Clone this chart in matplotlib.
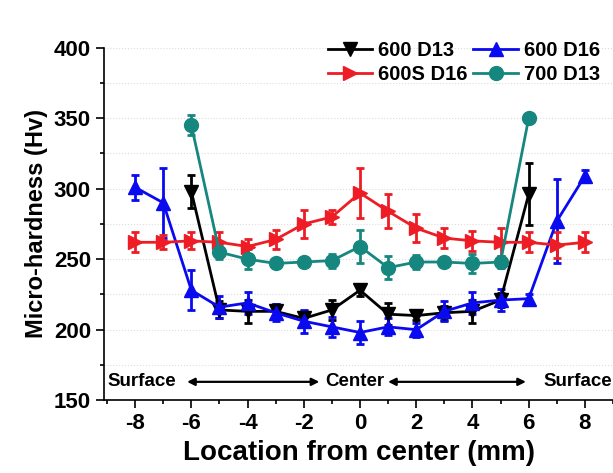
import numpy as np
import matplotlib.pyplot as plt
from matplotlib.ticker import MultipleLocator

plt.rcParams['font.family'] = ['Liberation Sans', 'DejaVu Sans']
plt.rcParams['font.weight'] = 'bold'
plt.rcParams['axes.unicode_minus'] = False

x13 = np.arange(-6, 7)
x16 = np.arange(-8, 9)

d13_600 = [298, 214, 213, 213, 208, 214, 228, 211, 210, 212, 213, 221, 296]
d13_600_err = [12, 6, 8, 5, 5, 7, 4, 8, 3, 5, 8, 5, 22]

d16_600 = [301, 290, 228, 216, 219, 212, 206, 202, 198, 202, 200, 213, 219, 221, 222, 277, 309]
d16_600_err = [9, 25, 14, 8, 8, 6, 8, 7, 8, 6, 5, 7, 8, 8, 3, 30, 4]

d16_600s = [262, 262, 263, 262, 259, 264, 275, 280, 297, 284, 272, 265, 263, 262, 262, 260, 262]
d16_600s_err = [7, 5, 6, 7, 5, 7, 10, 5, 18, 12, 10, 7, 7, 10, 7, 9, 7]

d13_700 = [345, 255, 250, 247, 248, 249, 259, 244, 248, 248, 247, 248, 350]
d13_700_err = [7, 5, 7, 3, 3, 5, 12, 8, 5, 3, 7, 4, 3]

fig = plt.figure(figsize=(6.13, 4.73), dpi=100)
ax = fig.add_axes([0.170, 0.154, 0.83, 0.745])

kw = dict(linewidth=2, markersize=10, elinewidth=2, capsize=3, capthick=2)
h1 = ax.errorbar(x13, d13_600, yerr=d13_600_err, color='black', marker='v', **kw)
h2 = ax.errorbar(x16, d16_600, yerr=d16_600_err, color='#0a0af0', marker='^', **kw)
h3 = ax.errorbar(x16, d16_600s, yerr=d16_600s_err, color='#ee1c24', marker='>', **kw)
h4 = ax.errorbar(x13, d13_700, yerr=d13_700_err, color='#16877f', marker='o', **kw)

ax.set_xlim(-9.1, 9.0)
ax.set_ylim(150, 400)
ax.xaxis.set_major_locator(MultipleLocator(2))
ax.xaxis.set_minor_locator(MultipleLocator(1))
ax.yaxis.set_major_locator(MultipleLocator(50))
ax.yaxis.set_minor_locator(MultipleLocator(25))
ax.grid(True, which='both', axis='y', color='#dddddd', linestyle=':', linewidth=0.8)
ax.set_axisbelow(True)

ax.spines['top'].set_visible(False)
ax.spines['right'].set_visible(False)
ax.spines['left'].set_linewidth(1.2)
ax.spines['bottom'].set_linewidth(1.2)
ax.tick_params(axis='both', which='major', direction='out', length=6, width=1.2, labelsize=16)
ax.tick_params(axis='both', which='minor', direction='out', length=3, width=1.2)

ax.set_xlabel('Location from center (mm)', fontsize=20, fontweight='bold', labelpad=4)
ax.set_ylabel('Micro-hardness (Hv)', fontsize=17, fontweight='bold')

# surface / center annotation
ax.text(-9.0, 163, 'Surface', fontsize=13.5, fontweight='bold', va='center', ha='left')
ax.text(-0.18, 163, 'Center', fontsize=13.5, fontweight='bold', va='center', ha='center')
ax.text(8.98, 163, 'Surface', fontsize=13.5, fontweight='bold', va='center', ha='right')
arrow = dict(arrowstyle='<|-|>', color='black', lw=1.6, mutation_scale=11)
ax.annotate('', xy=(-6.25, 163), xytext=(-1.35, 163), arrowprops=arrow)
ax.annotate('', xy=(0.9, 163), xytext=(6.0, 163), arrowprops=arrow)

leg = ax.legend([h1[0], h3[0], h2[0], h4[0]], ['600 D13', '600S D16', '600 D16', '700 D13'],
                ncol=2, loc='upper right', bbox_to_anchor=(1.01, 1.07), frameon=False,
                fontsize=14.5, handlelength=2.2, columnspacing=0.3, handletextpad=0.3,
                labelspacing=0.25)

fig.savefig('out.png', dpi=100)
